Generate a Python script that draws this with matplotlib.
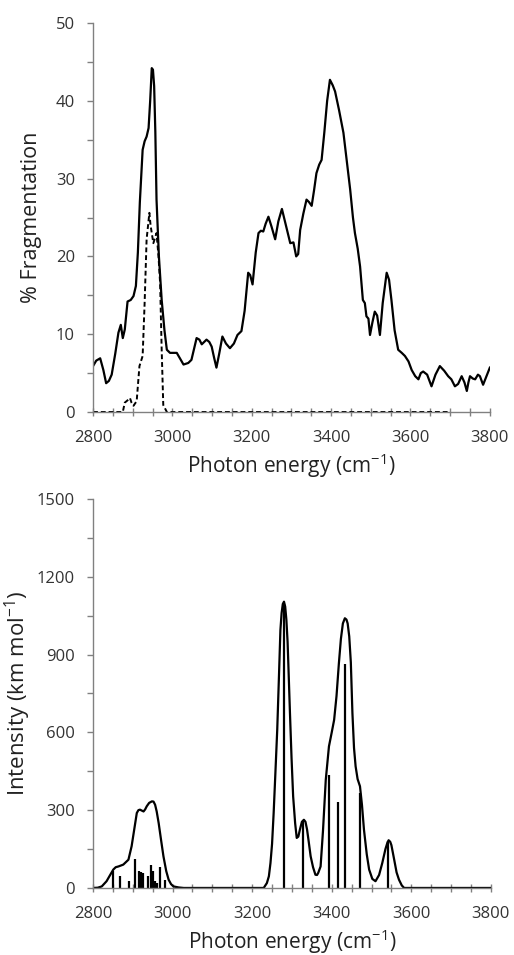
import numpy as np
import matplotlib
matplotlib.use('Agg')
import matplotlib.pyplot as plt
from matplotlib.ticker import MultipleLocator

plt.rcParams['font.family'] = ['Open Sans', 'DejaVu Sans']
plt.rcParams['mathtext.fontset'] = 'custom'
plt.rcParams['mathtext.rm'] = 'Open Sans'
plt.rcParams['mathtext.it'] = 'Open Sans'

exp_x = [2800, 2808, 2818, 2826, 2833, 2840, 2847, 2856, 2864, 2870, 2875, 2880, 2887,
         2895, 2902, 2908, 2913, 2918, 2925, 2930, 2935, 2940, 2944, 2948, 2951, 2954,
         2957, 2960, 2966, 2973, 2980, 2986, 2994, 3002, 3011, 3020, 3028, 3040, 3048,
         3055, 3061, 3068, 3074, 3086, 3093, 3099, 3105, 3111, 3118, 3126, 3135, 3145,
         3155, 3164, 3174, 3182, 3191, 3196, 3202, 3210, 3217, 3223, 3229, 3235, 3242,
         3250, 3259, 3267, 3276, 3286, 3297, 3305, 3312, 3317, 3322, 3330, 3338, 3344,
         3351, 3357, 3363, 3370, 3376, 3383, 3390, 3397, 3404, 3410, 3420, 3431, 3440,
         3448, 3455, 3460, 3467, 3473, 3480, 3485, 3489, 3494, 3498, 3504, 3510, 3516,
         3523, 3530, 3540, 3546, 3552, 3560, 3569, 3578, 3586, 3595, 3603, 3612, 3620,
         3626, 3632, 3642, 3653, 3663, 3674, 3685, 3695, 3703, 3712, 3720, 3729, 3736,
         3742, 3746, 3750, 3757, 3763, 3770, 3775, 3783, 3790, 3800]
exp_y = [5.9, 6.6, 6.9, 5.4, 3.7, 4.0, 4.8, 7.5, 10.2, 11.2, 9.5, 10.6, 14.2,
         14.4, 14.9, 16.2, 20.5, 27.0, 33.7, 34.8, 35.4, 36.5, 40.0, 44.2, 44.0, 41.9,
         36.0, 27.3, 20.0, 14.4, 10.5, 8.0, 7.6, 7.6, 7.6, 6.8, 6.1, 6.3, 6.7,
         8.2, 9.5, 9.3, 8.7, 9.3, 9.0, 8.4, 7.0, 5.7, 7.5, 9.7, 8.8, 8.2,
         8.8, 9.9, 10.4, 13.0, 17.9, 17.6, 16.4, 20.5, 23.0, 23.3, 23.2, 24.2, 25.1,
         23.8, 22.2, 24.5, 26.1, 24.0, 21.7, 21.8, 20.0, 20.3, 23.4, 25.5, 27.3, 27.0,
         26.5, 28.5, 30.7, 31.8, 32.4, 36.0, 40.0, 42.7, 42.0, 41.2, 38.8, 35.9, 32.0,
         28.6, 25.0, 23.0, 21.0, 18.7, 14.4, 14.0, 12.3, 12.0, 9.9, 11.5, 12.9, 12.4,
         9.9, 14.0, 17.9, 17.0, 14.4, 10.5, 8.0, 7.6, 7.2, 6.5, 5.4, 4.6, 4.2,
         5.0, 5.2, 4.8, 3.3, 4.8, 5.9, 5.3, 4.6, 4.2, 3.3, 3.6, 4.6, 3.8,
         2.7, 3.8, 4.6, 4.3, 4.2, 4.8, 4.6, 3.5, 4.4, 5.7]

# second fragmentation trace (dashed)
dash_x = [2800, 2875, 2880, 2887, 2893, 2897, 2902, 2910, 2914, 2917, 2925, 2930,
          2935, 2942, 2945, 2948, 2952, 2957, 2960, 2965, 2969, 2973, 2977, 2986, 3700]
dash_y = [0, 0, 1.2, 1.5, 1.8, 1.2, 0.8, 1.4, 4.0, 5.9, 7.2, 14.0,
          22.2, 25.6, 24.0, 23.0, 21.7, 22.5, 23.0, 20.0, 16.6, 8.0, 0.9, 0, 0]

# calculated spectrum envelope
calc_x = [2800, 2812, 2822, 2834, 2843, 2851, 2857, 2864, 2876, 2889, 2897, 2904,
          2910, 2914, 2918, 2923, 2927, 2931, 2935, 2941, 2948, 2952, 2956, 2960,
          2965, 2971, 2977, 2984, 2990, 2996, 3002, 3015, 3028, 3229, 3237, 3242,
          3246, 3250, 3254, 3258, 3263, 3267, 3271, 3274, 3277, 3280, 3283, 3286,
          3289, 3291, 3295, 3299, 3303, 3308, 3312, 3316, 3320, 3325, 3330, 3334,
          3338, 3342, 3347, 3353, 3359, 3363, 3366, 3372, 3378, 3385, 3393, 3400,
          3406, 3412, 3418, 3423, 3428, 3433, 3437, 3440, 3444, 3448, 3452, 3456,
          3460, 3465, 3471, 3476, 3481, 3488, 3494, 3502, 3510, 3519, 3527, 3535,
          3540, 3543, 3547, 3550, 3557, 3563, 3569, 3576, 3582, 3800]
calc_y = [0, 1, 6, 26, 50, 71, 80, 83, 90, 109, 161, 230,
          289, 300, 302, 298, 295, 303, 315, 328, 334, 333, 321, 295,
          250, 185, 122, 65, 32, 15, 6, 2, 0, 0, 19, 45,
          96, 170, 289, 430, 610, 800, 995, 1060, 1095, 1104, 1085, 1034,
          950, 860, 674, 500, 353, 250, 193, 198, 225, 255, 263, 255,
          225, 180, 122, 80, 51, 50, 58, 83, 220, 417, 546, 600,
          648, 740, 867, 960, 1020, 1040, 1035, 1020, 970, 870, 674, 540,
          469, 420, 392, 320, 225, 130, 71, 35, 26, 50, 96, 150,
          175, 184, 178, 165, 109, 60, 32, 10, 0, 0]

# calculated stick spectrum
stick_x = [2851, 2869, 2890, 2906, 2916, 2921, 2926, 2937, 2945, 2950, 2955, 2960,
           2969, 2980, 3279, 3329, 3392, 3416, 3434, 3471, 3541]
stick_y = [64, 45, 26, 113, 67, 62, 58, 45, 90, 64, 26, 19,
           80, 32, 1095, 257, 437, 330, 865, 366, 180]

fig = plt.figure(figsize=(5.14, 9.55), dpi=100)
ax1 = fig.add_axes([0.181, 0.5686, 0.772, 0.4073])
ax2 = fig.add_axes([0.181, 0.0702, 0.774, 0.4073])

ax1.plot(exp_x, exp_y, '-', color='black', lw=1.6)
ax1.plot(dash_x, dash_y, color='black', lw=1.4, linestyle=(0, (2.5, 1.5)))
ax1.set_ylim(0, 50)
ax1.yaxis.set_major_locator(MultipleLocator(10))
ax1.yaxis.set_minor_locator(MultipleLocator(5))
ax1.set_ylabel('% Fragmentation', fontsize=15.5, color='#222222', labelpad=10)

ax2.plot(calc_x, calc_y, '-', color='black', lw=1.6)
ax2.vlines(stick_x, 0, stick_y, color='black', lw=1.6)
ax2.set_ylim(0, 1500)
ax2.yaxis.set_major_locator(MultipleLocator(300))
ax2.yaxis.set_minor_locator(MultipleLocator(150))
ax2.set_ylabel('Intensity (km mol$^{-1}$)', fontsize=16, color='#222222', labelpad=3)

for ax in (ax1, ax2):
    ax.set_xlim(2800, 3800)
    ax.xaxis.set_major_locator(MultipleLocator(200))
    ax.xaxis.set_minor_locator(MultipleLocator(50))
    ax.set_xlabel('Photon energy (cm$^{-1}$)', fontsize=15, color='#222222', labelpad=4)
    for s in ('top', 'right'):
        ax.spines[s].set_visible(False)
    for s in ('left', 'bottom'):
        ax.spines[s].set_color('#808080')
        ax.spines[s].set_linewidth(1.0)
    ax.tick_params(which='both', length=4, width=1.0,
                   color='#808080', labelsize=12, labelcolor='#333333')
    ax.tick_params(axis='x', which='both', direction='inout', length=6, pad=10)
    ax.tick_params(axis='y', which='both', direction='out', pad=9)

fig.savefig('out.png', dpi=100)
